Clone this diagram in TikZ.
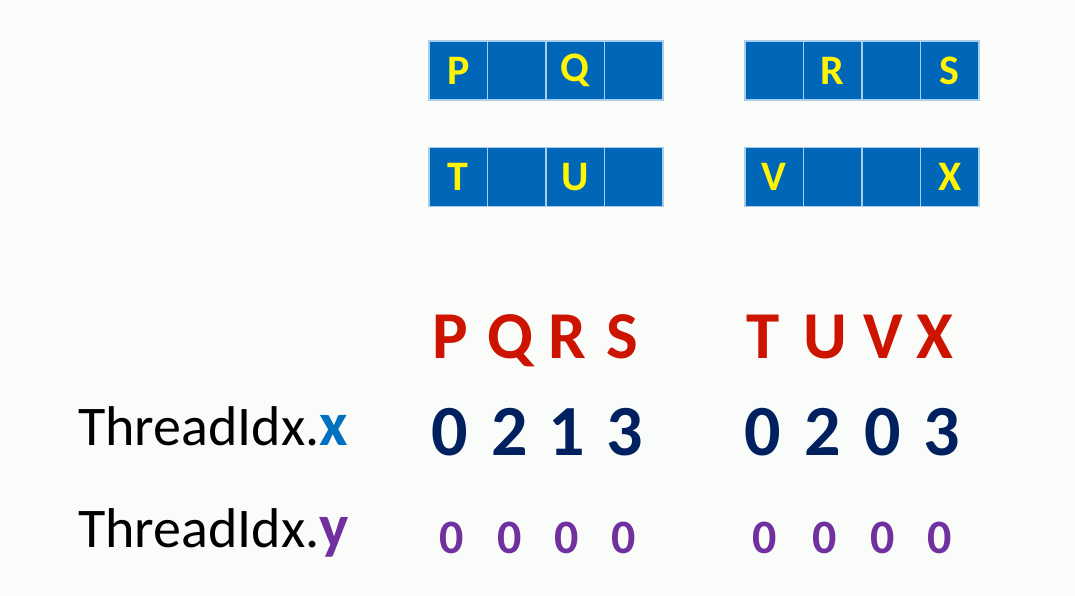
\documentclass[tikz,border=0pt]{standalone}
\usepackage{fontspec}
\setmainfont{Carlito}
\definecolor{pagebg}{RGB}{250,252,250}
\definecolor{cellblue}{RGB}{0,102,184}
\definecolor{cellline}{RGB}{170,205,235}
\definecolor{cellyellow}{RGB}{255,245,0}
\definecolor{letterred}{RGB}{204,20,0}
\definecolor{navy}{RGB}{0,32,96}
\definecolor{xblue}{RGB}{0,112,192}
\definecolor{ypurple}{RGB}{112,48,160}
\begin{document}
\begin{tikzpicture}[x=1pt,y=-1pt]
\tikzstyle{every node}+=[inner sep=0pt]
\tikzstyle{cell}=[draw=cellline, line width=1.2pt, fill=cellblue, minimum width=58.5pt, minimum height=59pt, text=cellyellow, font=\bfseries\fontsize{42}{42}\selectfont]
\tikzstyle{letter}=[anchor=base, text=letterred, font=\bfseries\fontsize{67}{67}\selectfont]
\tikzstyle{xval}=[anchor=base, text=navy, font=\bfseries\fontsize{72}{72}\selectfont]
\tikzstyle{yval}=[anchor=base, text=ypurple, font=\bfseries\fontsize{48}{48}\selectfont]
\tikzstyle{idx}=[anchor=base west, text=black, font=\fontsize{56}{56}\selectfont]
\fill [pagebg] (0,0) rectangle (1075,596);
% memory rows
\node [cell] (c11) at (458.25,70.5) {P};
\node [cell] (c12) at (516.75,70.5) {};
\node [cell] (c13) at (575.25,70.5) {Q};
\node [cell] (c14) at (633.75,70.5) {};
\node [cell] (c15) at (774.25,70.5) {};
\node [cell] (c16) at (832.75,70.5) {R};
\node [cell] (c17) at (891.25,70.5) {};
\node [cell] (c18) at (949.75,70.5) {S};
\node [cell] (c21) at (458.25,177) {T};
\node [cell] (c22) at (516.75,177) {};
\node [cell] (c23) at (575.25,177) {U};
\node [cell] (c24) at (633.75,177) {};
\node [cell] (c25) at (774.25,177) {V};
\node [cell] (c26) at (832.75,177) {};
\node [cell] (c27) at (891.25,177) {};
\node [cell] (c28) at (949.75,177) {X};
% threads
\node [letter] (lp) at (450,358) {P};
\node [letter] (lq) at (510,358) {Q};
\node [letter] (lr) at (567,358) {R};
\node [letter] (ls) at (622,358) {S};
\node [letter] (lt) at (763,358) {T};
\node [letter] (lu) at (825,358) {U};
\node [letter] (lv) at (883,358) {V};
\node [letter] (lx) at (935,358) {X};
% threadIdx.x
\node [idx] (tx) at (78,445) {ThreadIdx.\textcolor{xblue}{\bfseries\fontsize{62}{62}\selectfont x}};
\node [xval] (xp) at (450,455) {0};
\node [xval] (xq) at (510,455) {2};
\node [xval] (xr) at (567,455) {1};
\node [xval] (xs) at (625,455) {3};
\node [xval] (xt) at (763,455) {0};
\node [xval] (xu) at (823,455) {2};
\node [xval] (xv) at (883,455) {0};
\node [xval] (xx) at (942,455) {3};
% threadIdx.y
\node [idx] (ty) at (78,547) {ThreadIdx.\textcolor{ypurple}{\bfseries\fontsize{62}{62}\selectfont y}};
\node [yval] (yp) at (452,553) {0};
\node [yval] (yq) at (510,553) {0};
\node [yval] (yr) at (567,553) {0};
\node [yval] (ys) at (624,553) {0};
\node [yval] (yt) at (765,553) {0};
\node [yval] (yu) at (825,553) {0};
\node [yval] (yv) at (883,553) {0};
\node [yval] (yx) at (940,553) {0};
\end{tikzpicture}
\end{document}
